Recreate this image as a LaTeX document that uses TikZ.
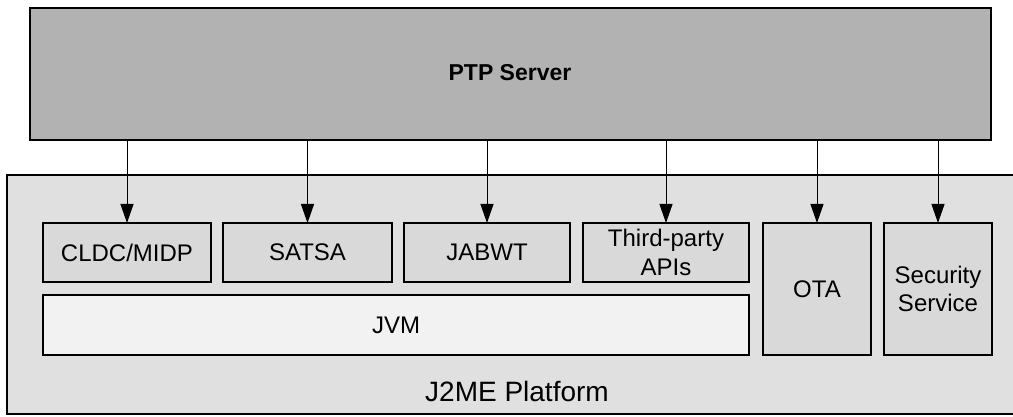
\documentclass[tikz,border=0pt]{standalone}
\usepackage{fontspec}
\setmainfont{Liberation Sans}
\usetikzlibrary{arrows.meta}
\begin{document}
\begin{tikzpicture}[x=1pt,y=-1pt,
  frame/.style={draw=black,line width=1.1pt,inner sep=0pt,outer sep=0pt},
  server/.style={frame,fill=black!30},
  platform/.style={frame,fill=black!12},
  module/.style={frame,fill=black!15,align=center},
  vmbox/.style={frame,fill=black!5},
  label/.style={font=\fontsize{24}{28.5}\selectfont},
  push/.style={line width=1pt,-{Triangle[length=19pt,width=13pt]}}]
\useasboundingbox (0,0) rectangle (1013,417);
\clip (0,0) rectangle (1013,417);
\fill[white] (0,0) rectangle (1013,417);

% server and platform frames
\node[server,minimum width=961pt,minimum height=132pt] (ptp) at (510.5,74) {};
\node[font=\fontsize{23}{28}\selectfont\bfseries] (ptplabel) at (510,73) {PTP Server};
\node[platform,minimum width=1012pt,minimum height=239pt] (plat) at (513,294.5) {};
\node[font=\fontsize{28}{32}\selectfont] (platlabel) at (517,391) {J2ME Platform};

% platform modules
\node[module,label,minimum width=168pt,minimum height=59pt] (cldc) at (127,252.5) {CLDC/MIDP};
\node[module,label,minimum width=169pt,minimum height=59pt] (satsa) at (307.5,252.5) {SATSA};
\node[module,label,minimum width=166pt,minimum height=59pt] (jabwt) at (487,252.5) {JABWT};
\node[module,label,minimum width=166pt,minimum height=59pt] (third) at (666,252.5) {Third-party\\APIs};
\node[vmbox,label,minimum width=706pt,minimum height=60pt] (jvm) at (396,325) {JVM};
\node[module,label,minimum width=108pt,minimum height=132pt] (ota) at (817,289) {OTA};
\node[module,label,minimum width=108pt,minimum height=132pt] (sec) at (938,289) {Security\\Service};

% provisioning links from the server
\foreach \m in {cldc,satsa,jabwt,third,ota,sec}
  \draw[push] (\m.north |- ptp.south) -- (\m.north);
\end{tikzpicture}
\end{document}
